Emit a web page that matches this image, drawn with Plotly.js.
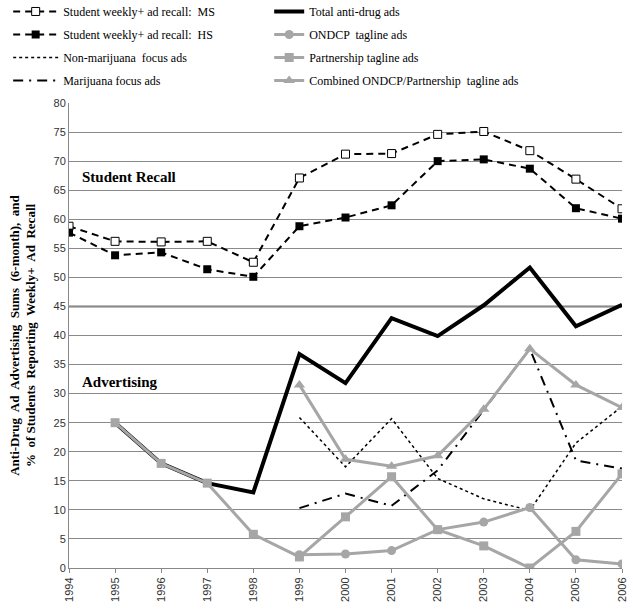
<!DOCTYPE html>
<html>
<head>
<meta charset="utf-8">
<script src="https://cdn.plot.ly/plotly-3.0.1.min.js"></script>
<style>
  body { margin: 0; background: #fff; }
  #chart { width: 633px; height: 611px; }
</style>
</head>
<body>
<div id="chart"></div>
<script>
// years on the x axis
var years = [1994, 1995, 1996, 1997, 1998, 1999, 2000, 2001, 2002, 2003, 2004, 2005, 2006];
var adYears = [1995, 1996, 1997, 1998, 1999, 2000, 2001, 2002, 2003, 2004, 2005, 2006];
var focusYears = [1999, 2000, 2001, 2002, 2003, 2004, 2005, 2006];

// student weekly+ ad recall (%)
var recallMS = [58.8, 56.2, 56.1, 56.2, 52.6, 67.1, 71.2, 71.3, 74.6, 75.1, 71.8, 66.9, 61.8];
var recallHS = [57.7, 53.8, 54.3, 51.4, 50.1, 58.8, 60.3, 62.4, 70.0, 70.3, 68.7, 61.9, 60.1];

// advertising sums (6-month)
var totalAds = [25.0, 18.0, 14.6, 13.0, 36.8, 31.8, 43.0, 39.9, 45.2, 51.7, 41.6, 45.3];
var partnershipAds = [25.0, 18.0, 14.6, 5.8, 1.9, 8.8, 15.7, 6.6, 3.8, 0.0, 6.3, 16.2];
var ondcpAds = [2.3, 2.4, 3.0, 6.6, 7.9, 10.4, 1.4, 0.7];
var combinedAds = [31.5, 18.7, 17.5, 19.3, 27.3, 37.7, 31.5, 27.6];
var nonMarijuanaAds = [25.9, 17.4, 25.7, 15.4, 11.9, 9.9, 21.5, 27.8];
var marijuanaAds = [10.3, 12.8, 10.7, 16.8, 27.2, 37.7, 18.5, 17.1];

var gray = '#a6a6a6';
var serif = 'Liberation Serif, Times New Roman, serif';

var data = [
    {
        x: years, y: recallMS, name: 'Student weekly+ ad recall:  MS',
        mode: 'lines+markers', legend: 'legend', legendgroup: 'a',
        line: {color: '#000', width: 2, dash: '7px,5px'},
        marker: {symbol: 'square', size: 8, color: '#fff', line: {color: '#000', width: 1}}
    },
    {
        x: years, y: recallHS, name: 'Student weekly+ ad recall:  HS',
        mode: 'lines+markers', legend: 'legend', legendgroup: 'b',
        line: {color: '#000', width: 2, dash: '7px,5px'},
        marker: {symbol: 'square', size: 8, color: '#000'}
    },
    {
        x: focusYears, y: nonMarijuanaAds, name: 'Non-marijuana  focus ads',
        mode: 'lines', legend: 'legend', legendgroup: 'c',
        line: {color: '#000', width: 1.5, dash: 'dot'}
    },
    {
        x: focusYears, y: marijuanaAds, name: 'Marijuana focus ads',
        mode: 'lines', legend: 'legend', legendgroup: 'd',
        line: {color: '#000', width: 2, dash: '10px,6px,2px,6px'}
    },
    {
        x: adYears, y: totalAds, name: 'Total anti-drug ads',
        mode: 'lines', legend: 'legend2', legendgroup: 'e',
        line: {color: '#000', width: 4}
    },
    {
        x: focusYears, y: ondcpAds, name: 'ONDCP  tagline ads',
        mode: 'lines+markers', legend: 'legend2', legendgroup: 'f',
        line: {color: gray, width: 3},
        marker: {symbol: 'circle', size: 9, color: gray}
    },
    {
        x: adYears, y: partnershipAds, name: 'Partnership tagline ads',
        mode: 'lines+markers', legend: 'legend2', legendgroup: 'g',
        line: {color: gray, width: 3},
        marker: {symbol: 'square', size: 9, color: gray}
    },
    {
        x: focusYears, y: combinedAds, name: 'Combined ONDCP/Partnership  tagline ads',
        mode: 'lines+markers', legend: 'legend2', legendgroup: 'h',
        line: {color: gray, width: 3},
        marker: {symbol: 'triangle-up', size: 10, color: gray}
    }
];

var layout = {
    width: 633, height: 611,
    margin: {l: 69, r: 11, t: 103, b: 43, autoexpand: false},
    paper_bgcolor: '#fff', plot_bgcolor: '#fff',
    font: {family: 'Liberation Sans, Arial, sans-serif', size: 11, color: '#333'},
    xaxis: {
        range: [1994, 2006], dtick: 1, tickangle: -90,
        showgrid: false, zeroline: false,
        showline: true, linecolor: '#888', linewidth: 1,
        ticks: 'outside', ticklen: 4, tickcolor: '#888',
        tickfont: {size: 11, color: '#333'}
    },
    yaxis: {
        range: [0, 80], dtick: 5,
        showgrid: true, gridcolor: '#8a8a8a', gridwidth: 1,
        zeroline: false, showline: true, linecolor: '#888', linewidth: 1,
        ticks: '', tickfont: {size: 11, color: '#333'},
        title: {
            text: 'Anti-Drug  Ad  Advertising  Sums  (6-month),  and<br>%  of Students  Reporting  Weekly+  Ad  Recall',
            font: {family: serif, size: 13, color: '#000', weight: 'bold'},
            standoff: 14
        }
    },
    legend: {
        x: -0.11, y: 1.228, xanchor: 'left', yanchor: 'top',
        bgcolor: 'rgba(0,0,0,0)', itemwidth: 45, tracegroupgap: 4,
        font: {family: serif, size: 12, color: '#000'}
    },
    legend2: {
        x: 0.362, y: 1.228, xanchor: 'left', yanchor: 'top',
        bgcolor: 'rgba(0,0,0,0)', itemwidth: 30, tracegroupgap: 4,
        font: {family: serif, size: 12, color: '#000'}
    },
    shapes: [
        {type: 'line', xref: 'paper', x0: 0, x1: 1, yref: 'y', y0: 45, y1: 45,
         line: {color: '#777', width: 2}, layer: 'below'}
    ],
    annotations: [
        {text: '<b>Student Recall</b>', x: 1994.23, y: 67.2, xanchor: 'left', yanchor: 'middle',
         showarrow: false, font: {family: serif, size: 15, color: '#000'}},
        {text: '<b>Advertising</b>', x: 1994.23, y: 32.0, xanchor: 'left', yanchor: 'middle',
         showarrow: false, font: {family: serif, size: 15, color: '#000'}}
    ]
};

Plotly.newPlot('chart', data, layout, {displayModeBar: false});
</script>
</body>
</html>
